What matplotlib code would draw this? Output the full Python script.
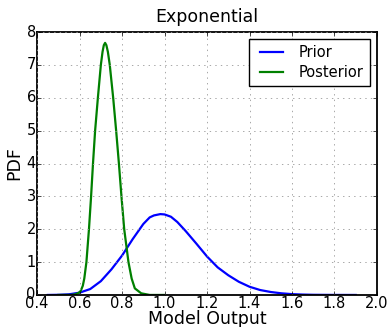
"""
plot.py -- Prior vs. Posterior PDF of the model output (exponential case).
Werte sind aus dem Referenzbild abgelesen.
"""

import matplotlib

matplotlib.use("Agg")
import matplotlib.pyplot as plt

# -----------------------------------------------------------------------------
# Daten
# -----------------------------------------------------------------------------
prior_x = [0.45, 0.50, 0.55, 0.60, 0.65, 0.70, 0.75, 0.80, 0.85, 0.90,
           0.93, 0.95, 0.98, 1.00, 1.03, 1.06, 1.10, 1.15, 1.20, 1.25,
           1.30, 1.35, 1.40, 1.45, 1.50, 1.55, 1.60, 1.65, 1.70, 1.80, 1.90]
prior_pdf = [0.0, 0.005, 0.02, 0.07, 0.18, 0.42, 0.78, 1.2, 1.7, 2.16,
             2.36, 2.42, 2.46, 2.45, 2.38, 2.22, 1.94, 1.56, 1.17, 0.84,
             0.6, 0.4, 0.25, 0.15, 0.09, 0.05, 0.025, 0.012, 0.005, 0.001, 0.0]

post_x = [0.50, 0.56, 0.58, 0.595, 0.605, 0.615, 0.622, 0.632, 0.644, 0.654,
          0.663, 0.673, 0.686, 0.700, 0.708, 0.714, 0.720, 0.726, 0.733, 0.742,
          0.758, 0.772, 0.785, 0.797, 0.810, 0.830, 0.845, 0.860, 0.890, 0.930,
          1.00]
post_pdf = [0.0, 0.0, 0.02, 0.06, 0.12, 0.28, 0.5, 1.0, 2.0, 3.0,
            4.0, 5.0, 6.0, 7.0, 7.4, 7.6, 7.67, 7.6, 7.4, 7.0,
            6.0, 5.0, 4.0, 3.0, 2.0, 1.0, 0.5, 0.2, 0.05, 0.0,
            0.0]

labels = ["Prior", "Posterior"]
title = "Exponential"
x_ticks = [0.4, 0.6, 0.8, 1.0, 1.2, 1.4, 1.6, 1.8, 2.0]
y_ticks = [0, 1, 2, 3, 4, 5, 6, 7, 8]

# -----------------------------------------------------------------------------
# Plot im alten matplotlib-Look
# -----------------------------------------------------------------------------
plt.style.use("classic")
plt.rcParams["font.family"] = ["DejaVu Sans"]

fig = plt.figure(figsize=(3.91, 3.27), dpi=100, facecolor="white")
ax = fig.add_axes([0.095, 0.098, 0.869, 0.804])

ax.plot(prior_x, prior_pdf, color="blue", lw=1.6, label=labels[0])
ax.plot(post_x, post_pdf, color="green", lw=1.6, label=labels[1])

ax.set_xlim(0.4, 2.0)
ax.set_ylim(0, 8)
ax.set_xticks(x_ticks)
ax.set_yticks(y_ticks)
ax.set_xticklabels([f"{t:.1f}" for t in x_ticks])
ax.tick_params(labelsize=10.5, pad=1, length=3)
for sp in ax.spines.values():
    sp.set_linewidth(1.3)

ax.set_title(title, fontsize=12.5, pad=7)
ax.set_xlabel("Model Output", fontsize=12.5, labelpad=-1)
ax.set_ylabel("PDF", fontsize=12.5, labelpad=2)
ax.grid(True, color="#999999", linestyle=":", linewidth=0.6)

ax.legend(loc="upper right", fontsize=10.5, handlelength=2.2,
          borderpad=0.4, labelspacing=0.35, fancybox=False)

fig.savefig("out.png", dpi=100, facecolor="white")
